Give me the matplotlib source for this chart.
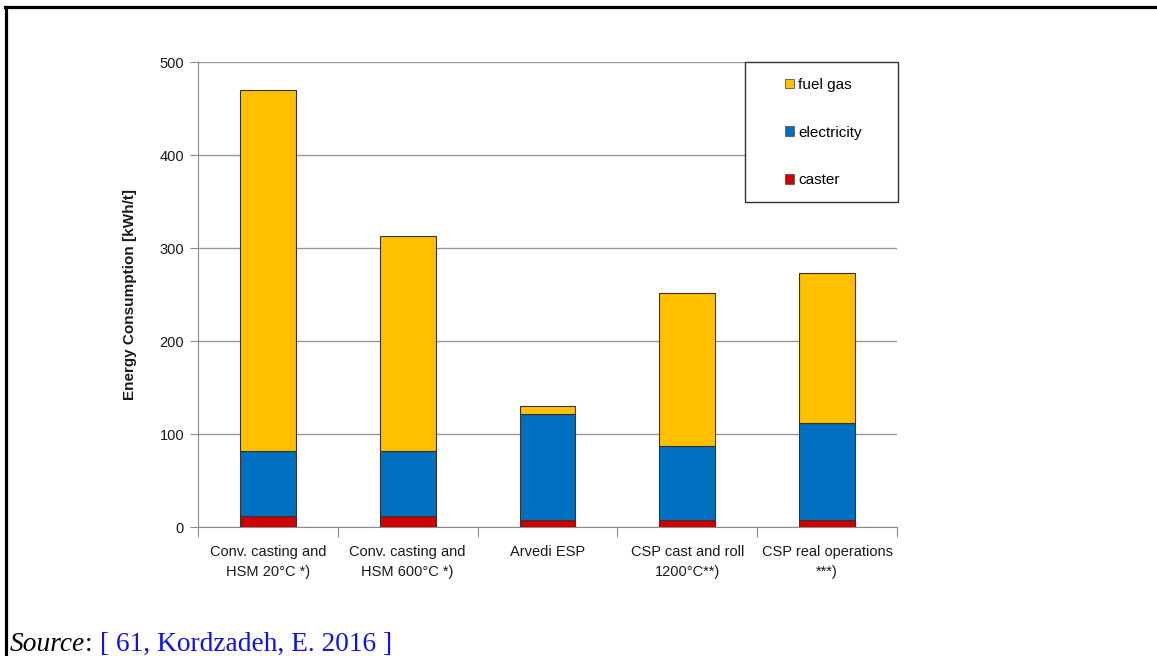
import matplotlib.pyplot as plt
import numpy as np
from matplotlib.lines import Line2D
from matplotlib.patches import Rectangle

plt.rcParams['font.family'] = ['Liberation Sans', 'DejaVu Sans']

categories = ['Conv. casting and\nHSM 20°C *)', 'Conv. casting and\nHSM 600°C *)',
              'Arvedi ESP', 'CSP cast and roll\n1200°C**)', 'CSP real operations\n***)']
caster = [12, 12, 8, 8, 8]
electricity = [70, 70, 114, 79, 104]
fuel_gas = [388, 231, 8, 165, 161]
yticks = [0, 100, 200, 300, 400, 500]

col_fuel = '#FFC000'
col_elec = '#0070C0'
col_cast = '#D00000'
grey = '#8c8c8c'

fig = plt.figure(figsize=(11.57, 6.56), dpi=100)
ax = fig.add_axes([0.1711, 0.1966, 0.6042, 0.7088])

x = np.arange(len(categories))
bottom2 = np.array(caster) + np.array(electricity)
ax.bar(x, caster, 0.4, color=col_cast, edgecolor='#333333', linewidth=0.8, label='caster', zorder=3)
ax.bar(x, electricity, 0.4, bottom=caster, color=col_elec, edgecolor='#333333', linewidth=0.8,
       label='electricity', zorder=3)
ax.bar(x, fuel_gas, 0.4, bottom=bottom2, color=col_fuel, edgecolor='#333333', linewidth=0.8,
       label='fuel gas', zorder=3)

ax.set_xlim(-0.5, len(categories) - 0.5)
ax.set_ylim(0, 500)
ax.set_yticks(yticks)
ax.yaxis.grid(True, color='#999999', linewidth=1)
ax.set_axisbelow(True)

# boundary ticks without labels, category labels on minor ticks
ax.set_xticks(np.arange(len(categories) + 1) - 0.5)
ax.set_xticklabels([])
ax.set_xticks(x, minor=True)
ax.set_xticklabels(categories, minor=True, fontsize=10.5, color='#1a1a1a', linespacing=1.55)
ax.tick_params(axis='x', which='major', length=7, color=grey, direction='out')
ax.tick_params(axis='x', which='minor', length=0, pad=13)
ax.tick_params(axis='y', length=6, color=grey, labelsize=10.5, labelcolor='#1a1a1a', pad=4)

for s in ['top', 'right']:
    ax.spines[s].set_visible(False)
for s in ['left', 'bottom']:
    ax.spines[s].set_color(grey)

ax.set_ylabel('Energy Consumption [kWh/t]', fontsize=11, fontweight='bold', color='#1a1a1a', labelpad=16)

# legend box
box = Rectangle((745 / 1157, 1 - 202 / 656), 153 / 1157, 140 / 656, transform=fig.transFigure,
                facecolor='white', edgecolor='#333333', linewidth=1, zorder=5)
fig.add_artist(box)
handles, labels = ax.get_legend_handles_labels()
leg = fig.legend(handles[::-1], labels[::-1], loc='upper left', bbox_to_anchor=(785 / 1157, 1 - 78 / 656),
                 frameon=False, fontsize=11, handlelength=0.6, handleheight=0.6, handletextpad=0.25,
                 labelspacing=2.2, borderpad=0, borderaxespad=0)
leg.set_zorder(6)
for h in leg.legend_handles:
    h.set_edgecolor('#555555')
    h.set_linewidth(0.6)

# outer frame
fig.add_artist(Line2D([6 / 1157, 6 / 1157], [0, 1 - 7 / 656], transform=fig.transFigure, color='black', lw=2.3))
fig.add_artist(Line2D([5 / 1157, 1], [1 - 7 / 656, 1 - 7 / 656], transform=fig.transFigure, color='black', lw=2.3))

# source line
t1 = fig.text(10 / 1157, 5 / 656, 'Source', family='Liberation Serif', style='italic', fontsize=19.7, va='baseline')
t2 = fig.text(0, 0, ': ', family='Liberation Serif', fontsize=19.7)
t3 = fig.text(0, 0, '[ 61, Kordzadeh, E. 2016 ]', family='Liberation Serif', fontsize=19.7, color='#1010F0')
fig.canvas.draw()
r = fig.canvas.get_renderer()
inv = fig.transFigure.inverted()
b1 = inv.transform(t1.get_window_extent(r))
t2.set_position((b1[1][0], 5 / 656))
t2.set_va('baseline')
b2 = inv.transform(t2.get_window_extent(r))
t3.set_position((b2[1][0], 5 / 656))
t3.set_va('baseline')

fig.savefig('out.png', dpi=100)
